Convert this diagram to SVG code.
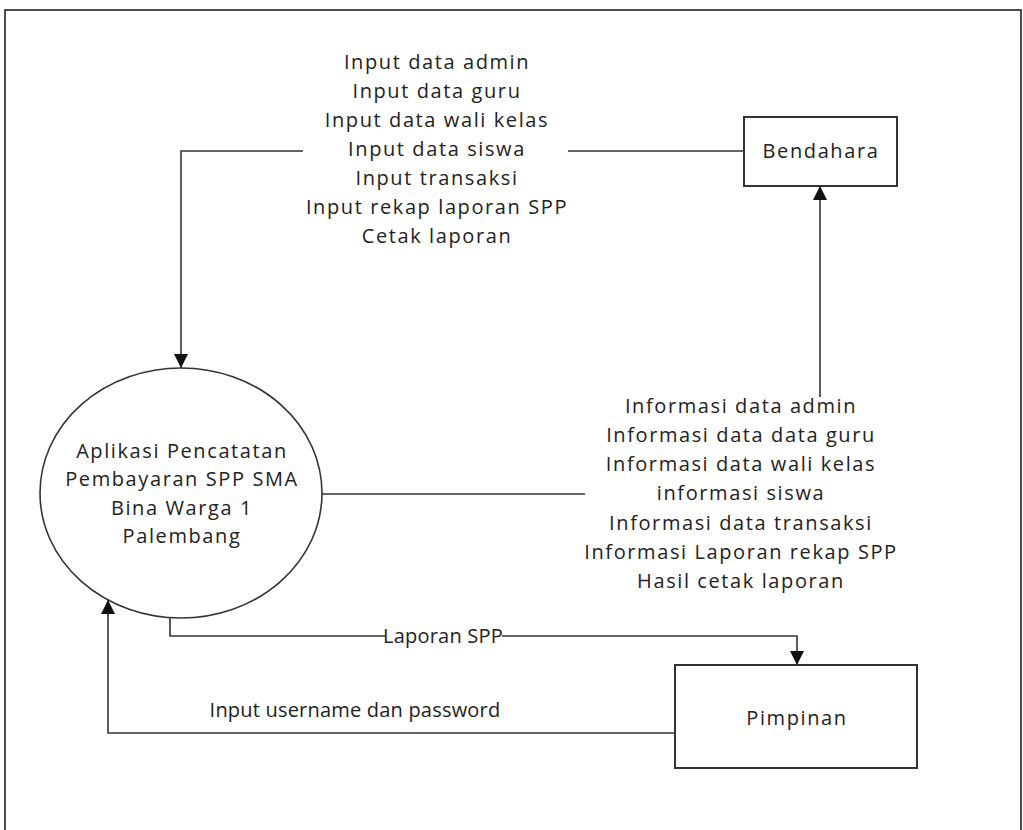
<svg xmlns="http://www.w3.org/2000/svg" width="1023" height="830" viewBox="0 0 1023 830">
<defs>
<style>
text{font-family:"Open Sans","DejaVu Sans",sans-serif;font-size:20px;letter-spacing:1.6px;fill:#222;text-anchor:middle}
text.tight{letter-spacing:0.2px}
.ln{fill:none;stroke:#333;stroke-width:1.6}
.box{fill:#fff;stroke:#333;stroke-width:2}
</style>
<marker id="ah" viewBox="0 0 14 14" refX="14" refY="7" markerWidth="14" markerHeight="14" markerUnits="userSpaceOnUse" orient="auto">
<path d="M0,0 L14,7 L0,14 Z" fill="#111"/>
</marker>
</defs>
<rect x="0" y="0" width="1023" height="830" fill="#fff"/>
<rect x="5" y="10" width="1016" height="830" fill="none" stroke="#222" stroke-width="1.6"/>
<g id="connectors">
<path class="ln" d="M744,151 H568 M303,151 H181 V368" marker-end="url(#ah)"/>
<path class="ln" d="M820,397 V186" marker-end="url(#ah)"/>
<path class="ln" d="M322,494 H585"/>
<path class="ln" d="M170,618 V636 H385 M502,636 H797 V665" marker-end="url(#ah)"/>
<path class="ln" d="M675,733 H108 V600" marker-end="url(#ah)"/>
<g id="label-input">
<text x="437" y="69">Input data admin</text>
<text x="437" y="98">Input data guru</text>
<text x="437" y="127">Input data wali kelas</text>
<text x="437" y="156">Input data siswa</text>
<text x="437" y="185">Input transaksi</text>
<text x="437" y="214">Input rekap laporan SPP</text>
<text x="437" y="243">Cetak laporan</text>
</g>
<g id="label-info">
<text x="741" y="413">Informasi data admin</text>
<text x="741" y="442">Informasi data data guru</text>
<text x="741" y="471">Informasi data wali kelas</text>
<text x="741" y="500">informasi siswa</text>
<text x="741" y="530">Informasi data transaksi</text>
<text x="741" y="559">Informasi Laporan rekap SPP</text>
<text x="741" y="588">Hasil cetak laporan</text>
</g>
<text class="tight" x="443" y="643">Laporan SPP</text>
<text class="tight" x="355" y="717">Input username dan password</text>
</g>
<g id="process">
<ellipse cx="181" cy="493" rx="141" ry="125" fill="none" stroke="#333" stroke-width="1.6"/>
<text x="182" y="458">Aplikasi Pencatatan</text>
<text x="182" y="486">Pembayaran SPP SMA</text>
<text x="182" y="515">Bina Warga 1</text>
<text x="182" y="543">Palembang</text>
</g>
<g id="bendahara">
<rect class="box" x="744" y="117" width="153" height="69"/>
<text x="821" y="158">Bendahara</text>
</g>
<g id="pimpinan">
<rect class="box" x="675" y="665" width="242" height="103"/>
<text x="797" y="725">Pimpinan</text>
</g>
</svg>
